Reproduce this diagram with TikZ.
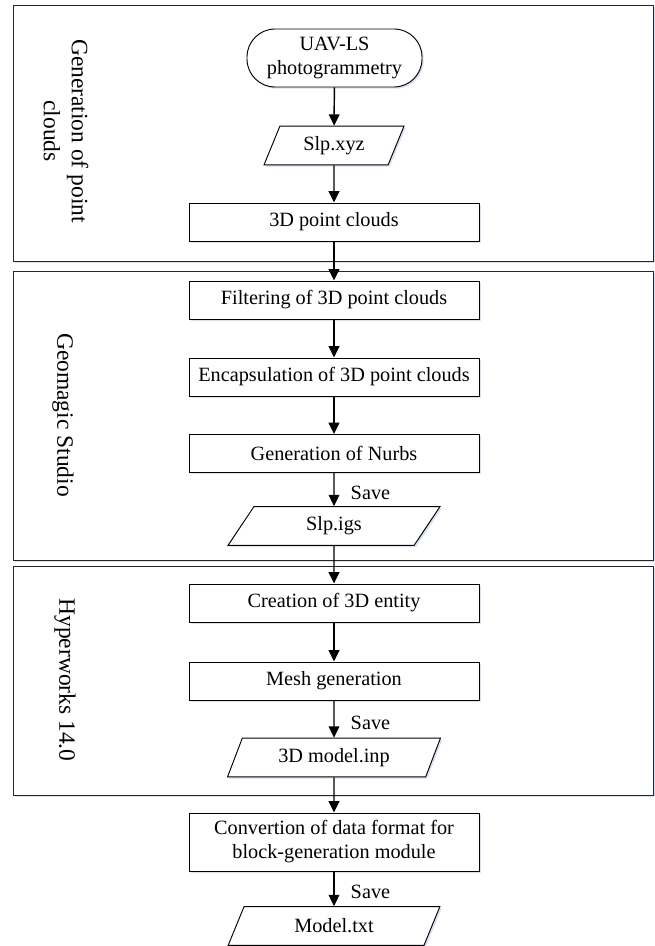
\documentclass[tikz,border=0pt]{standalone}
\usepackage{fontspec}
\setmainfont{Liberation Serif}
\usetikzlibrary{shapes.geometric,arrows.meta,shadows}
\definecolor{shadowblue}{RGB}{205,218,238}
\tikzset{
  base/.style={draw=black, line width=0.7pt, fill=white, inner sep=0pt, align=center,
    font=\fontsize{15.2pt}{18pt}\selectfont,
    drop shadow={shadow xshift=1.3pt, shadow yshift=-1.3pt, fill=shadowblue, opacity=0.8}},
  procbox/.style={base, rectangle, minimum width=217.5pt, minimum height=28.5pt},
  termbox/.style={base, rectangle, rounded corners=21pt, minimum width=131.25pt, minimum height=43.5pt},
  iobox/.style={base, trapezium, trapezium left angle=64, trapezium right angle=116,
    trapezium stretches=true, minimum height=29pt},
  arr/.style={line width=1.1pt, -{Triangle[length=8.5pt,width=8pt]}},
  frame/.style={draw=black!85, line width=0.7pt, fill=white,
    drop shadow={shadow xshift=1.2pt, shadow yshift=-1.2pt, fill=shadowblue, opacity=0.8}},
  side/.style={rotate=-90, align=center, inner sep=0pt, font=\fontsize{17.6pt}{21pt}\selectfont},
  savelbl/.style={right=12pt, inner sep=0pt, font=\fontsize{15.2pt}{18pt}\selectfont}
}
\begin{document}
\begin{tikzpicture}[x=0.75pt, y=-0.75pt]
\useasboundingbox (0,0) rectangle (655,946);
% frames
\draw[frame] (13,5) rectangle (653,261);
\draw[frame] (13,271) rectangle (653,560);
\draw[frame] (13,566) rectangle (653,795);
% side labels
\node[side] (lab1) at (66,131) {Generation of point\\clouds};
\node[side] (lab2) at (63,415) {Geomagic Studio};
\node[side] (lab3) at (65,680) {Hyperworks 14.0};
% nodes
\node[termbox] (term) at (334.5,58) {UAV-LS\\photogrammetry};
\node[iobox, minimum width=105pt] (xyz) at (334,145.5) {Slp.xyz};
\node[procbox] (pc) at (334,222) {3D point clouds};
\node[procbox] (filt) at (334,300) {Filtering of 3D point clouds};
\node[procbox] (enc) at (334,377) {Encapsulation of 3D point clouds};
\node[procbox] (nurbs) at (334,453.5) {Generation of Nurbs};
\node[iobox, minimum width=159.75pt] (igs) at (334,526) {Slp.igs};
\node[procbox] (creat) at (334,603) {Creation of 3D entity};
\node[procbox] (mesh) at (334,681) {Mesh generation};
\node[iobox, minimum width=159.75pt] (inp) at (334,757.5) {3D model.inp};
\node[procbox, minimum height=43.5pt] (conv) at (334,842) {Convertion of data format for\\block-generation module};
\node[iobox, minimum width=159.75pt] (txt) at (334,926) {Model.txt};
% connectors
\draw[arr] (term) -- (xyz);
\draw[arr] (xyz) -- (pc);
\draw[arr] (pc) -- (filt);
\draw[arr] (filt) -- (enc);
\draw[arr] (enc) -- (nurbs);
\draw[arr] (nurbs) -- node[savelbl, pos=0.6] (s1) {Save} (igs);
\draw[arr] (igs) -- (creat);
\draw[arr] (creat) -- (mesh);
\draw[arr] (mesh) -- node[savelbl, pos=0.6] (s2) {Save} (inp);
\draw[arr] (inp) -- (conv);
\draw[arr] (conv) -- node[savelbl, pos=0.6] (s3) {Save} (txt);
\end{tikzpicture}
\end{document}
